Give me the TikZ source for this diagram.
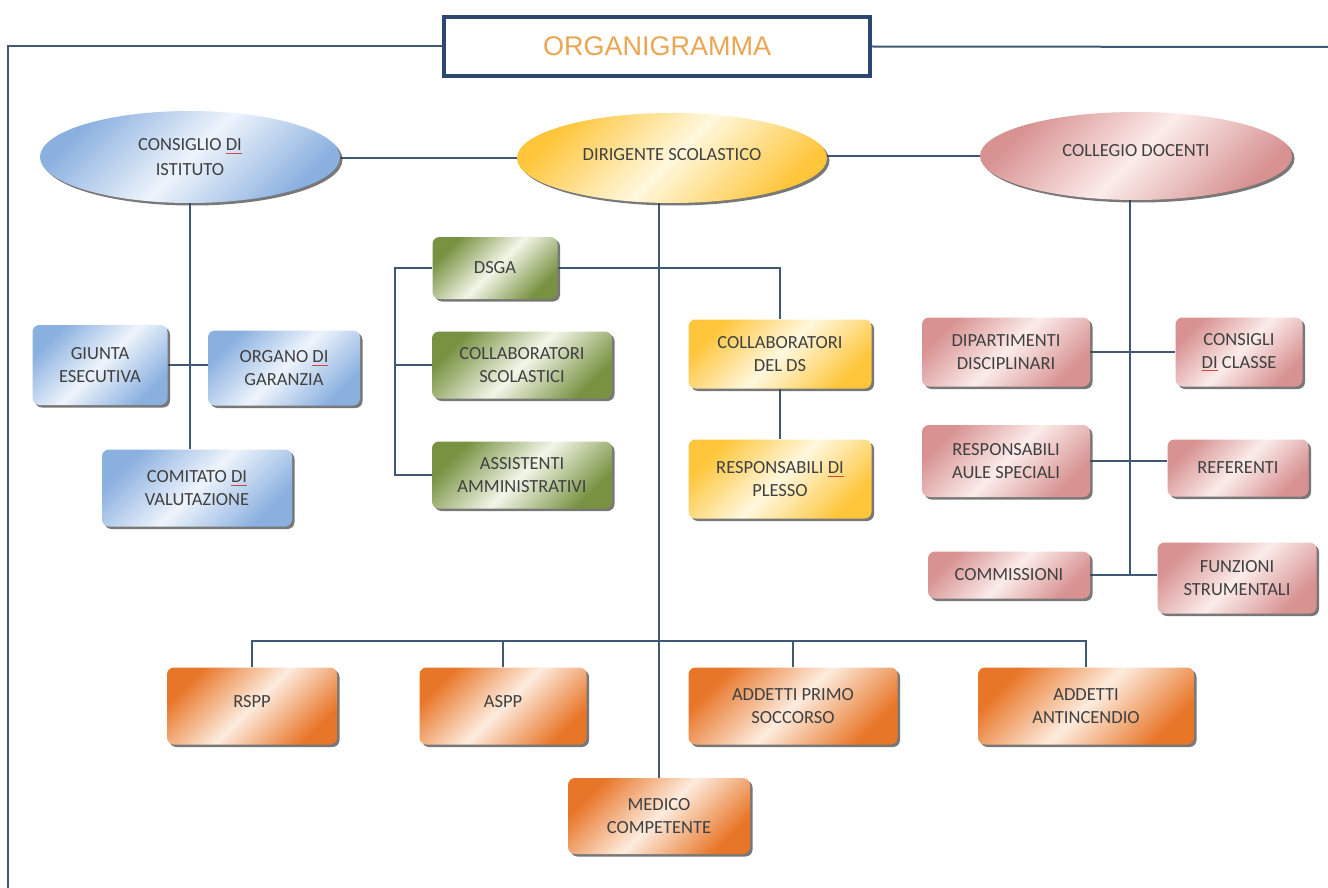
\documentclass[tikz,border=0pt]{standalone}
\usepackage{fontspec}
\setmainfont{Carlito}
\newfontfamily\titlefont{Liberation Sans}
\usetikzlibrary{shapes.geometric,shadows,backgrounds}
\definecolor{linec}{RGB}{62,88,118}
\definecolor{titlec}{RGB}{45,70,110}
\definecolor{titletxt}{RGB}{234,166,82}
\definecolor{txt}{RGB}{64,64,64}
\definecolor{spell}{RGB}{205,70,70}
\definecolor{bluD}{RGB}{138,176,224}
\definecolor{bluL}{RGB}{238,244,252}
\definecolor{grnD}{RGB}{120,146,66}
\definecolor{grnL}{RGB}{242,246,232}
\definecolor{ylwD}{RGB}{255,198,60}
\definecolor{ylwL}{RGB}{255,248,222}
\definecolor{pnkD}{RGB}{216,146,146}
\definecolor{pnkL}{RGB}{251,236,234}
\definecolor{orgD}{RGB}{232,118,40}
\definecolor{orgL}{RGB}{253,236,222}
\newcommand\sqd[1]{\setbox0\hbox{#1}\rlap{\textcolor{spell}{\rule[-3pt]{\wd0}{0.9pt}}}\box0\relax}
\tikzset{
  conn/.style={draw=linec, line width=2pt},
  base/.style={align=center, font=\fontsize{18.5}{23}\selectfont, text=txt, inner sep=2pt,
    drop shadow={shadow xshift=2.5pt, shadow yshift=-2.5pt, fill=black!75, opacity=0.7}},
  rbox/.style={base, rectangle, rounded corners=7pt},
  ell/.style={base, ellipse, inner sep=0pt},
  sblue/.style={left color=bluD, right color=bluD, middle color=bluL, shading angle=45},
  sgreen/.style={left color=grnD, right color=grnD, middle color=grnL, shading angle=45},
  syellow/.style={left color=ylwD, right color=ylwD, middle color=ylwL, shading angle=45},
  spink/.style={left color=pnkD, right color=pnkD, middle color=pnkL, shading angle=45},
  sorange/.style={left color=orgD, right color=orgD, middle color=orgL, shading angle=45},
  sz/.style 2 args={minimum width=#1, minimum height=#2}
}
\begin{document}
\begin{tikzpicture}[x=1pt,y=-1pt]
\useasboundingbox (0,0) rectangle (1328,888);

% title
\node[draw=titlec, line width=3.5pt, fill=white, minimum width=426, minimum height=59,
  font=\titlefont\fontsize{27}{30}\selectfont, text=titletxt] (title) at (657,46.5) {ORGANIGRAMMA};

% ellipses
\node[ell, sblue, sz={300}{92}] (consiglio) at (190,157) {CONSIGLIO \sqd{DI}\\[2pt] ISTITUTO};
\node[ell, syellow, sz={310}{90}] (dirigente) at (672,158) {\raisebox{8pt}{DIRIGENTE SCOLASTICO}};
\node[ell, spink, sz={312}{88}] (collegio) at (1136,156) {\raisebox{11pt}{COLLEGIO DOCENTI}};

% left group
\node[rbox, sblue, sz={135}{80}] (giunta) at (100,365) {GIUNTA\\ESECUTIVA};
\node[rbox, sblue, sz={152}{75}] (organo) at (284,368) {ORGANO \sqd{DI}\\GARANZIA};
\node[rbox, sblue, sz={190}{77}] (comitato) at (197,488) {COMITATO \sqd{DI}\\VALUTAZIONE};

% middle group
\node[rbox, sgreen, sz={125}{62}] (dsga) at (495,268) {DSGA};
\node[rbox, sgreen, sz={180}{67}] (collsc) at (522,365) {COLLABORATORI\\SCOLASTICI};
\node[rbox, sgreen, sz={180}{67}] (assist) at (522,475) {ASSISTENTI\\AMMINISTRATIVI};
\node[rbox, syellow, sz={183}{69}] (collds) at (780,354) {COLLABORATORI\\DEL DS};
\node[rbox, syellow, sz={183}{79}] (respl) at (780,479) {RESPONSABILI \sqd{DI}\\PLESSO};

% right group
\node[rbox, spink, sz={168}{69}] (dip) at (1006,352) {DIPARTIMENTI\\DISCIPLINARI};
\node[rbox, spink, sz={127}{69}] (consc) at (1239,352) {CONSIGLI\\\sqd{DI} CLASSE};
\node[rbox, spink, sz={168}{72}] (resau) at (1006,461) {RESPONSABILI\\AULE SPECIALI};
\node[rbox, spink, sz={141}{57}] (refer) at (1238,468) {REFERENTI};
\node[rbox, spink, sz={162}{47}] (commis) at (1009,575) {COMMISSIONI};
\node[rbox, spink, sz={159}{71}] (funz) at (1237,578) {FUNZIONI\\STRUMENTALI};

% bottom group
\node[rbox, sorange, sz={170}{77}] (rspp) at (252,706) {\raisebox{9pt}{RSPP}};
\node[rbox, sorange, sz={167}{77}] (aspp) at (503,706) {\raisebox{9pt}{ASPP}};
\node[rbox, sorange, sz={209}{77}] (aps) at (793,706) {ADDETTI PRIMO\\SOCCORSO};
\node[rbox, sorange, sz={216}{77}] (antinc) at (1086,706) {ADDETTI\\ANTINCENDIO};
\node[rbox, sorange, sz={182}{76}] (medico) at (659,816) {MEDICO\\COMPETENTE};

\coordinate (fl) at (8,888);
\coordinate (fr) at (1328,47);
\coordinate (bx) at (395,0);
\coordinate (rx) at (1130,0);
\coordinate (bus) at (0,641);

\begin{scope}[on background layer]
  \fill[white] (0,0) rectangle (1328,888);
  % frame
  \draw[conn] (title.west) -- (title.west -| fl) -- (fl);
  \draw[conn] (title.east) -- (fr);
  % top row
  \draw[conn] (consiglio.center) -- (dirigente.center -| consiglio.center) -- (dirigente.center);
  \draw[conn] (dirigente.center) -- (collegio.center -| dirigente.center) -- (collegio.center);
  % left
  \draw[conn] (consiglio.center) -- (consiglio.center |- comitato.north);
  \draw[conn] (giunta.east) -- (organo.west |- giunta.east);
  % middle
  \draw[conn] (dsga.west) -- (dsga.west -| bx) -- (bx |- assist.west) -- (assist.west);
  \draw[conn] (bx |- collsc.west) -- (collsc.west);
  \draw[conn] (dsga.east) -| (collds.north);
  \draw[conn] (collds.south) -- (respl.north);
  \draw[conn] (medico.north) -- (medico.north |- dirigente.center);
  % right
  \draw[conn] (rx |- collegio.center) -- (rx |- commis.east);
  \draw[conn] (dip.east) -- (consc.west);
  \draw[conn] (resau.east) -- (refer.west |- resau.east);
  \draw[conn] (commis.east) -- (funz.west |- commis.east);
  % bottom bus
  \draw[conn] (rspp.north) -- (rspp.north |- bus) -- (antinc.north |- bus) -- (antinc.north);
  \draw[conn] (aspp.north) -- (aspp.north |- bus);
  \draw[conn] (aps.north) -- (aps.north |- bus);
\end{scope}
\end{tikzpicture}
\end{document}
